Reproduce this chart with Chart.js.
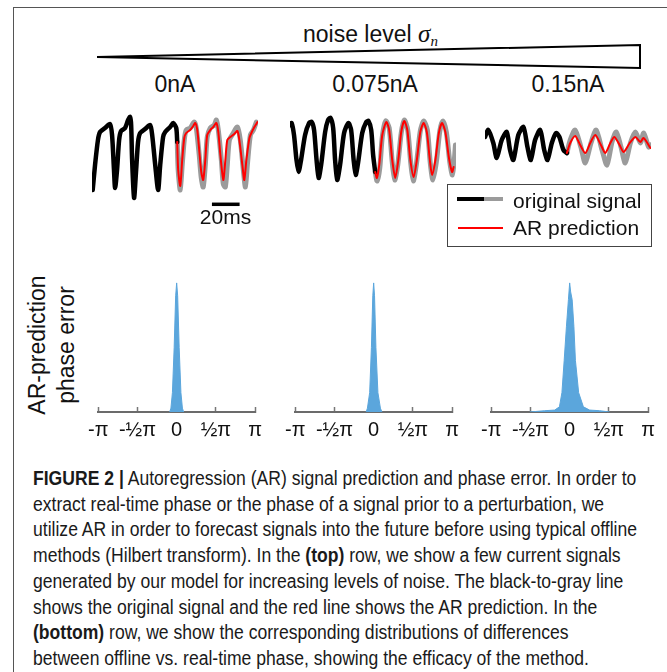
<!DOCTYPE html>
<html>
<head>
<meta charset="utf-8">
<title>Figure 2 - AR signal prediction and phase error</title>
<script src="https://cdn.jsdelivr.net/npm/chart.js@4.4.0/dist/chart.umd.min.js"></script>
<style>
  body { margin: 0; background: #fff; font-family: 'Liberation Sans', Arial, sans-serif; color: #111; }
  #fig { position: relative; width: 667px; height: 672px; overflow: hidden; background: #fff; }
  #fig canvas, .abs { position: absolute; }
  #frame { left: 13px; top: 7px; width: 700px; height: 700px; border-left: 1.5px solid #555; border-top: 1.5px solid #555; }
  #noiseTitle { left: 303px; top: 21px; font-size: 23px; line-height: 26px; white-space: nowrap; }
  #noiseTitle i { font-family: 'Liberation Serif', serif; font-size: 25px; }
  #noiseTitle sub { font-size: 15px; vertical-align: -4px; }
  .noiseLbl { width: 140px; text-align: center; font-size: 23px; line-height: 26px; top: 71px; }
  #bar20 { left: 197px; top: 205px; width: 57px; text-align: center; font-size: 21px; line-height: 24px; }
  #legend { left: 447px; top: 184px; width: 203px; height: 61px; border: 1.5px solid #444; }
  .legTxt { left: 513px; font-size: 21px; line-height: 24px; white-space: nowrap; }
  .legLine { height: 4px; }
  #ytitle { left: -33px; top: 316px; width: 170px; height: 58px; text-align: center; font-size: 23px; line-height: 29px; transform: rotate(-90deg); }
  .cap { left: 33px; font-size: 20px; line-height: 22px; white-space: nowrap; transform-origin: 0 50%; color: #1a1a1a; }
</style>
</head>
<body>
<div id="fig">
  <div id="frame" class="abs"></div>
  <div id="noiseTitle" class="abs">noise level <i>σ<sub>n</sub></i></div>
  <svg class="abs" style="left:0;top:0" width="667" height="100">
    <polygon points="97,57 640,45 640,68" fill="none" stroke="#000" stroke-width="2" stroke-linejoin="miter"/>
  </svg>
  <div id="noiseLabels"></div>

  <canvas id="sig0" width="166" height="96" style="left:92px;top:112px"></canvas>
  <canvas id="sig1" width="166" height="96" style="left:290px;top:102px"></canvas>
  <canvas id="sig2" width="166" height="96" style="left:485px;top:97px"></canvas>
  <div id="bar20" class="abs">20ms</div>

  <div id="legend" class="abs"></div>
  <div class="abs legLine" style="left:457px;top:197px;width:27px;background:#000"></div>
  <div class="abs legLine" style="left:484px;top:197px;width:19px;background:#9b9b9b"></div>
  <div class="abs" style="left:458px;top:227px;width:45px;height:2px;background:#f00"></div>
  <div class="abs legTxt" style="top:189px">original signal</div>
  <div class="abs legTxt" style="top:216px">AR prediction</div>

  <div id="ytitle" class="abs">AR-prediction<br>phase error</div>
  <canvas id="hist0" width="196" height="182" style="left:77px;top:270px"></canvas>
  <canvas id="hist1" width="196" height="182" style="left:274px;top:270px"></canvas>
  <canvas id="hist2" width="196" height="182" style="left:470px;top:270px"></canvas>

  <div id="caption"></div>
</div>
<script>
// noise levels shown above the three signals
const noiseLevels = ['0nA', '0.075nA', '0.15nA'];
const noiseCenters = [175, 375, 568];

// signals: [time (ms), amplitude (a.u.)]
// 0nA
const sig0Past = [[0.5,-30],[2.2,-5],[4.3,20],[5.8,28],[9.4,32],[13,36],[14.5,25],[15.9,-10],[16.7,-28],[18.1,-10],[19.6,20],[21,29],[23.9,32],[26.1,40],[27.5,43],[28.3,35],[29,0],[30.4,-38],[31.9,-10],[33.3,18],[34.8,27],[38.4,31],[42,35],[43.5,25],[45.7,-5],[47.8,-30],[49.3,-5],[51.4,23],[52.9,28],[56.5,33],[58.7,37],[60.9,32],[61.6,18]];
const sig0Orig = [[61.6,18],[62.3,-10],[63.8,-30],[65.2,-5],[66.7,20],[68.1,30],[71,32],[73.9,38],[75.4,32],[77.5,5],[79,-18],[80.4,-27],[81.9,-5],[83.3,23],[85.5,32],[88.4,35],[89.9,40],[91.3,30],[93.5,0],[94.9,-24],[96.4,-27],[97.8,-5],[99.3,20],[102.2,27],[105.1,33],[107.2,20],[109.4,-10],[110.9,-27],[112.3,-5],[114.5,25],[116.7,30],[118.8,38]];
const sig0Pred = [[61.6,18],[62.3,-10],[63.8,-26],[65.2,0],[66.7,22],[68.1,27],[71,30],[73.2,34],[74.6,37],[76.1,30],[77.5,10],[79,-12],[80.4,-20],[81.9,0],[83.3,25],[85.5,30],[87.7,33],[89.9,37],[91.3,28],[92.8,5],[94.9,-20],[96.4,0],[97.8,20],[100,23],[102.9,26],[105.1,29],[106.5,20],[108.7,-5],[110.1,-20],[111.6,0],[113.8,22],[115.2,27],[117.4,33],[119.6,38]];
// 0.075nA
const sig1Past = [[0,25],[1.2,27],[2.9,15],[4.7,-10],[6.2,-22],[8,-10],[10.9,15],[13.8,27],[15.7,28],[17.4,20],[19.2,-10],[20.7,-28],[22.5,-15],[25.4,18],[27.5,30],[29.3,32],[31.2,22],[32.6,-10],[34.1,-30],[36.2,-15],[39.1,17],[42.2,27],[44.2,20],[46,-10],[47.5,-25],[49.3,-12],[52.2,17],[55.1,28],[56.7,29],[58.7,20],[60.1,-5],[61.6,-22]];
const sig1Orig = [[61.6,-22],[63,-31],[64.9,-18],[66.7,13],[69.2,29],[71.7,22],[73.9,-12],[75.7,-30],[77.9,-15],[80.4,17],[82.6,30],[85.1,20],[87.3,-13],[89.1,-31],[91.3,-15],[94.2,19],[96.7,29],[99.3,20],[101.4,-13],[103.3,-30],[105.8,-12],[108.3,19],[110.5,29],[113,18],[115.6,-13],[117.4,-25],[118.8,-10],[119.6,5]];
const sig1Pred = [[61.6,-22],[62.8,-28],[64.5,-15],[66.7,15],[69.6,28],[71.7,20],[73.9,-10],[76.1,-28],[78.3,-10],[80.4,18],[82.6,29],[84.8,20],[87,-10],[89.4,-27],[91.7,-10],[94.2,18],[96.6,27],[98.9,18],[101.1,-10],[102.7,-25],[105.1,-10],[107.6,17],[109.9,27],[112.3,18],[114.9,-8],[117.2,-22],[118.3,-17]];
// 0.15nA
const sig2Past = [[0,8],[2.4,15],[6,2],[8.5,-13],[12.1,5],[15.7,13],[18.1,-5],[20.5,-15],[24.1,10],[27.8,18],[30.7,-2],[33.1,-15],[36.2,5],[39.9,15],[42.8,-5],[45.2,-15],[48.3,2],[51.4,12],[53.8,8],[56.7,-5],[59.2,-8]];
const sig2Orig = [[59.2,-8],[61.6,5],[65.2,15],[69.3,-2],[72.5,-18],[76.6,2],[80.4,15],[84.6,-5],[88.2,-20],[91.8,3],[94.9,13],[98.3,-2],[101.4,-18],[105.1,2],[108.7,13],[112.3,2],[114.7,12],[118.3,-2],[119.6,0]];
const sig2Pred = [[59.2,-8],[61.6,2],[65.2,9],[68.8,0],[72.5,-8],[76.1,2],[79.7,10],[83.8,0],[87,-8],[90.6,2],[93.5,8],[97.3,0],[100.2,-7],[104.6,2],[108.7,8],[112.3,3],[114.7,7],[119.6,-3]];
// 20 ms scale bar under the first signal
const scaleBar = [[86.7,-44.3],[106.7,-44.3]];

// phase error histograms: bin position (rad), relative count
const hist0X = [-0.28,-0.23,-0.17,-0.1,-0.04,0,0.04,0.1,0.17,0.23,0.28];
const hist0Y = [0,0.03,0.15,0.5,0.9,1,0.9,0.5,0.15,0.03,0];
const hist1X = [-0.3,-0.25,-0.16,-0.09,-0.035,0,0.035,0.09,0.17,0.27,0.33];
const hist1Y = [0,0.03,0.15,0.5,0.9,1,0.9,0.5,0.15,0.03,0];
const hist2X = [-1.6,-1.0,-0.6,-0.41,-0.31,-0.22,-0.13,-0.05,0,0.04,0.1,0.17,0.23,0.36,0.55,0.8,1.2,1.6];
const hist2Y = [0,0.01,0.015,0.04,0.15,0.4,0.66,0.87,1,0.93,0.87,0.66,0.4,0.15,0.04,0.015,0.01,0];
const phaseTicks = [-Math.PI, -Math.PI / 2, 0, Math.PI / 2, Math.PI];
const phaseTickLabels = ['-π', '-½π', '0', '½π', 'π'];

const captionLines = [
  '<b>FIGURE 2 |</b> Autoregression (AR) signal prediction and phase error. In order to',
  'extract real-time phase or the phase of a signal prior to a perturbation, we',
  'utilize AR in order to forecast signals into the future before using typical offline',
  'methods (Hilbert transform). In the <b>(top)</b> row, we show a few current signals',
  'generated by our model for increasing levels of noise. The black-to-gray line',
  'shows the original signal and the red line shows the AR prediction. In the',
  '<b>(bottom)</b> row, we show the corresponding distributions of differences',
  'between offline vs. real-time phase, showing the efficacy of the method.'
];

const fig = document.getElementById('fig');

// noise labels
noiseLevels.forEach((txt, i) => {
  const d = document.createElement('div');
  d.className = 'abs noiseLbl';
  d.style.left = (noiseCenters[i] - 70) + 'px';
  d.textContent = txt;
  fig.appendChild(d);
});

// caption, squeezed to the narrow caption face
const capEls = captionLines.map((html, i) => {
  const d = document.createElement('div');
  d.className = 'abs cap';
  d.style.top = (467 + i * 25.7) + 'px';
  d.innerHTML = html;
  fig.appendChild(d);
  return d;
});
const capScale = 604 / capEls[2].getBoundingClientRect().width;
capEls.forEach(d => { d.style.transform = 'scaleX(' + capScale + ')'; });

const xy = arr => arr.map(([x, y]) => ({ x, y }));

function signalChart(id, past, orig, pred, extra) {
  const line = (data, color, width, order) => ({
    data: xy(data), borderColor: color, borderWidth: width, order,
    pointRadius: 0, tension: 0.25, fill: false, clip: false,
    borderJoinStyle: 'round', borderCapStyle: 'round'
  });
  const datasets = [
    line(orig, '#9b9b9b', 5, 3),
    line(past, '#000000', 4.5, 2),
    line(pred, '#ff0000', 2, 1)
  ];
  if (extra) datasets.push({ ...line(extra, '#000000', 3.5, 0), tension: 0, borderCapStyle: 'butt' });
  new Chart(document.getElementById(id), {
    type: 'line',
    data: { datasets },
    options: {
      responsive: false, animation: false, devicePixelRatio: 1,
      layout: { padding: 0 },
      plugins: { legend: { display: false }, tooltip: { enabled: false } },
      scales: {
        x: { type: 'linear', display: false, min: 0, max: 120 },
        y: { display: false, min: -48, max: 48 }
      }
    }
  });
}

function histChart(id, xs, ys) {
  new Chart(document.getElementById(id), {
    type: 'line',
    data: {
      datasets: [{
        data: xs.map((x, i) => ({ x, y: ys[i] })),
        fill: 'origin', backgroundColor: '#5ba6dc', borderColor: '#5ba6dc',
        borderWidth: 1, pointRadius: 0, tension: 0
      }]
    },
    options: {
      responsive: false, animation: false, devicePixelRatio: 1,
      layout: { padding: { left: 16, right: 16, top: 0, bottom: 0 } },
      plugins: { legend: { display: false }, tooltip: { enabled: false } },
      scales: {
        x: {
          type: 'linear', min: -Math.PI, max: Math.PI,
          afterBuildTicks: s => { s.ticks = phaseTicks.map(v => ({ value: v })); },
          afterFit: s => { s.height = 40; },
          ticks: {
            autoSkip: false, maxRotation: 0, padding: 11, color: '#111',
            font: { family: 'Liberation Sans', size: 20 },
            callback: (v, i) => phaseTickLabels[i]
          },
          grid: { drawOnChartArea: false, drawTicks: true, tickLength: -5, color: '#777', tickWidth: 1.5 },
          border: { display: true, color: '#6b6b6b', width: 2 }
        },
        y: { display: false, min: 0, max: 1.1 }
      }
    }
  });
}

signalChart('sig0', sig0Past, sig0Orig, sig0Pred, scaleBar);
signalChart('sig1', sig1Past, sig1Orig, sig1Pred);
signalChart('sig2', sig2Past, sig2Orig, sig2Pred);
histChart('hist0', hist0X, hist0Y);
histChart('hist1', hist1X, hist1Y);
histChart('hist2', hist2X, hist2Y);
</script>
</body>
</html>
